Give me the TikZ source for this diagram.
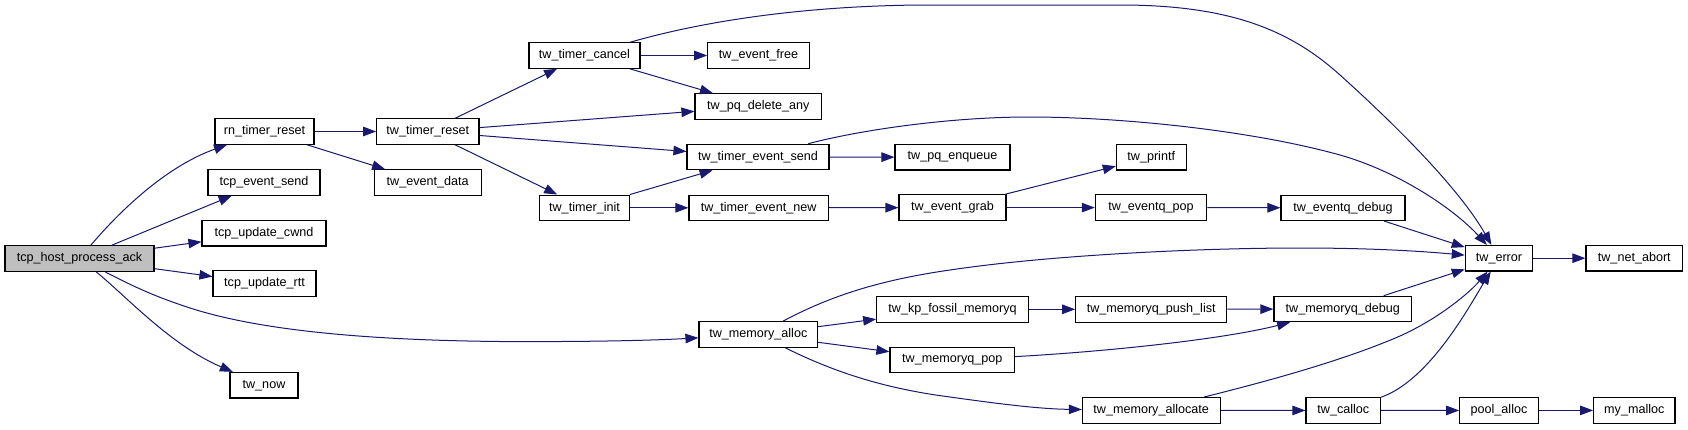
\documentclass[tikz,border=0pt]{standalone}
\usepackage{fontspec}
\setmainfont{Liberation Sans}
\usetikzlibrary{arrows.meta}
\definecolor{edgeblue}{HTML}{191970}
\definecolor{hlgray}{HTML}{BFBFBF}
\tikzset{
  fn/.style={draw=black, line width=1.1pt, fill=white, rectangle, inner sep=0pt,
    minimum height=25.5pt, font=\fontsize{12.6}{15}\selectfont},
  fnh/.style={fn, fill=hlgray},
  cg/.style={draw=edgeblue, line width=1pt, -{Triangle[length=13pt,width=9.5pt]}}
}
\begin{document}
\begin{tikzpicture}[x=1pt, y=-1pt]
\useasboundingbox[fill=white] (0,0) rectangle (1688,429);
% nodes
\node[fnh, minimum width=149pt] (host) at (79.5,258.5) {tcp\_host\_process\_ack};
\node[fn, minimum width=99pt] (rn) at (264.5,131.5) {rn\_timer\_reset};
\node[fn, minimum width=112pt] (tsend) at (264,182.5) {tcp\_event\_send};
\node[fn, minimum width=124pt] (cwnd) at (264,233.2) {tcp\_update\_cwnd};
\node[fn, minimum width=103pt] (rtt) at (264.5,283.6) {tcp\_update\_rtt};
\node[fn, minimum width=68pt] (now) at (264,385.2) {tw\_now};
\node[fn, minimum width=102.3pt] (reset) at (427.8,131.5) {tw\_timer\_reset};
\node[fn, minimum width=106.7pt] (data) at (427.7,182.5) {tw\_event\_data};
\node[fn, minimum width=111pt] (cancel) at (584.5,55.5) {tw\_timer\_cancel};
\node[fn, minimum width=101.5pt] (free) at (758.5,55.5) {tw\_event\_free};
\node[fn, minimum width=126.7pt] (delany) at (758.3,106.5) {tw\_pq\_delete\_any};
\node[fn, minimum width=142pt] (send) at (758,157) {tw\_timer\_event\_send};
\node[fn, minimum width=89.6pt] (init) at (584.5,207.8) {tw\_timer\_init};
\node[fn, minimum width=139.3pt] (evnew) at (758.6,207.8) {tw\_timer\_event\_new};
\node[fn, minimum width=107pt] (grab) at (952.5,207.6) {tw\_event\_grab};
\node[fn, minimum width=115pt] (enq) at (952.5,157.2) {tw\_pq\_enqueue};
\node[fn, minimum width=69.7pt] (printf) at (1151.2,157.2) {tw\_printf};
\node[fn, minimum width=111.4pt] (qpop) at (1151,207.6) {tw\_eventq\_pop};
\node[fn, minimum width=124pt] (qdebug) at (1343,207.8) {tw\_eventq\_debug};
\node[fn, minimum width=67.4pt] (error) at (1499,258.2) {tw\_error};
\node[fn, minimum width=96.7pt] (abort) at (1634.3,258.2) {tw\_net\_abort};
\node[fn, minimum width=137.7pt] (mdebug) at (1342.8,309) {tw\_memoryq\_debug};
\node[fn, minimum width=151.6pt] (kp) at (952.5,309.3) {tw\_kp\_fossil\_memoryq};
\node[fn, minimum width=151pt] (push) at (1151.2,309.3) {tw\_memoryq\_push\_list};
\node[fn, minimum width=124.7pt] (mpop) at (952.3,360) {tw\_memoryq\_pop};
\node[fn, minimum width=118.7pt] (alloc) at (758.3,334.4) {tw\_memory\_alloc};
\node[fn, minimum width=137.7pt] (allocate) at (1151.2,410.3) {tw\_memory\_allocate};
\node[fn, minimum width=74.7pt] (calloc) at (1343.3,410.5) {tw\_calloc};
\node[fn, minimum width=78.6pt] (pool) at (1499,410.4) {pool\_alloc};
\node[fn, minimum width=81.3pt] (malloc) at (1634.3,410.4) {my\_malloc};
% edges from tcp_host_process_ack
\draw[cg] (host) .. controls (125,205) and (170,165) .. (rn);
\draw[cg] (host) -- (tsend);
\draw[cg] (host) -- (cwnd);
\draw[cg] (host) -- (rtt);
\draw[cg] (host) .. controls (140,290) and (160,298) .. (187,307)
  .. controls (250,328) and (350,340) .. (500,341.5)
  .. controls (600,342) and (660,340) .. (alloc);
\draw[cg] (host) .. controls (125,295) and (170,345) .. (now);
% rn_timer_reset
\draw[cg] (rn) -- (reset);
\draw[cg] (rn) -- (data);
% tw_timer_reset
\draw[cg] (reset) -- (cancel);
\draw[cg] (reset) -- (delany);
\draw[cg] (reset) -- (send);
\draw[cg] (reset) -- (init);
% tw_timer_cancel
\draw[cg] (cancel) -- (free);
\draw[cg] (cancel) -- (delany);
\draw[cg] (cancel) .. controls (700,22) and (800,6) .. (921,5) -- (1120,5)
  .. controls (1230,5) and (1290,30) .. (1340,75)
  .. controls (1400,129) and (1460,190) .. (error);
% tw_timer_event_send
\draw[cg] (send) -- (enq);
\draw[cg] (send) .. controls (860,130) and (950,117) .. (1029,117)
  .. controls (1120,117) and (1250,130) .. (1340,155)
  .. controls (1400,172) and (1455,210) .. (error);
% tw_timer_init
\draw[cg] (init) -- (send);
\draw[cg] (init) -- (evnew);
\draw[cg] (evnew) -- (grab);
\draw[cg] (grab) -- (printf);
\draw[cg] (grab) -- (qpop);
\draw[cg] (qpop) -- (qdebug);
\draw[cg] (qdebug) -- (error);
% tw_memory_alloc
\draw[cg] (alloc) .. controls (830,296) and (880,280) .. (950,270)
  .. controls (1050,255) and (1200,248) .. (1300,248)
  .. controls (1380,248) and (1430,252) .. (error);
\draw[cg] (alloc) -- (kp);
\draw[cg] (alloc) -- (mpop);
\draw[cg] (alloc) .. controls (830,370) and (880,388) .. (950,397)
  .. controls (1000,404) and (1040,409) .. (allocate);
\draw[cg] (kp) -- (push);
\draw[cg] (push) -- (mdebug);
\draw[cg] (mpop) .. controls (1100,352) and (1220,340) .. (mdebug);
\draw[cg] (mdebug) -- (error);
% tw_memory_allocate
\draw[cg] (allocate) .. controls (1260,383) and (1340,362) .. (1400,336)
  .. controls (1440,318) and (1470,292) .. (error);
\draw[cg] (allocate) -- (calloc);
\draw[cg] (calloc) .. controls (1430,380) and (1470,305) .. (error);
\draw[cg] (calloc) -- (pool);
\draw[cg] (pool) -- (malloc);
\draw[cg] (error) -- (abort);
\end{tikzpicture}
\end{document}
